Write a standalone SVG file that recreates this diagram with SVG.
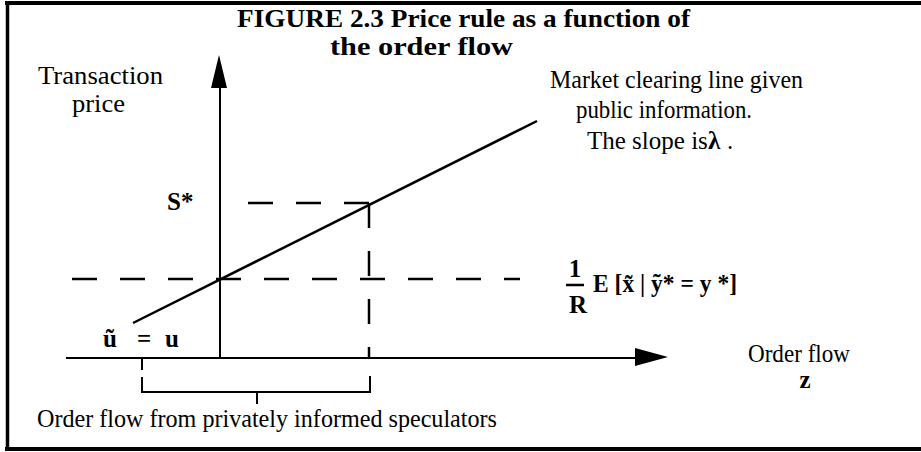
<svg xmlns="http://www.w3.org/2000/svg" width="921" height="452" viewBox="0 0 921 452">
<style>
.t{font-family:"Liberation Serif","Times New Roman",Times,serif;font-size:25px;fill:#000}
.b{font-weight:bold}
.ax{stroke:#000;stroke-width:2;fill:none}
.d{stroke:#000;stroke-width:2.5;fill:none;stroke-dasharray:25 23}
.fr{stroke:#000;fill:none}
</style>
<rect width="921" height="452" fill="#fff"/>
<g id="frame">
<line class="fr" x1="5" y1="3" x2="921" y2="3" stroke-width="4"/>
<line class="fr" x1="5" y1="449" x2="921" y2="449" stroke-width="4"/>
<line class="fr" x1="7.5" y1="1" x2="7.5" y2="451" stroke-width="3.5"/>
</g>
<g id="title">
<text class="t b" x="237" y="27" font-size="24" textLength="453" lengthAdjust="spacingAndGlyphs">FIGURE 2.3  Price rule as a function of</text>
<text class="t b" x="330" y="55" font-size="24" textLength="183" lengthAdjust="spacingAndGlyphs">the order flow</text>
</g>
<g id="connectors">
<line class="ax" x1="220" y1="86" x2="220" y2="358"/>
<polygon points="219,55 211,88 227,88" fill="#000"/>
<line class="ax" x1="66" y1="358" x2="637" y2="358"/>
<polygon points="668,357 635,348 635,366" fill="#000"/>
<line x1="133" y1="323" x2="537" y2="121" stroke="#000" stroke-width="2.5"/>
<line class="d" x1="72" y1="279" x2="520" y2="279"/>
<line class="d" x1="248" y1="203" x2="371" y2="203" stroke-dasharray="25 24"/>
<path class="d" d="M369,203 V357" stroke-dasharray="10 22 25 23 25 24 25"/>
<path class="ax" d="M142,358 V370 M142,377 V392 H370 V376 M257,392 V404"/>
</g>
<g id="label-y">
<text class="t" x="38" y="84" textLength="125" lengthAdjust="spacingAndGlyphs">Transaction</text>
<text class="t" x="72" y="112" textLength="53" lengthAdjust="spacingAndGlyphs">price</text>
</g>
<g id="label-line">
<text class="t" x="587" y="149" font-size="21">The slope is</text>
<text class="t b" x="708" y="149">λ</text>
<text class="t" x="727" y="149">.</text>
<text class="t" x="550" y="88" textLength="253" lengthAdjust="spacingAndGlyphs">Market clearing line given</text>
<text class="t" x="576" y="118" textLength="176" lengthAdjust="spacingAndGlyphs">public information.</text>
</g>
<g id="label-s">
<text class="t b" x="167" y="210" font-size="22">S*</text>
</g>
<g id="label-expect">
<text class="t b" x="575" y="277" text-anchor="middle" font-size="18">1</text>
<line x1="566" y1="285" x2="584" y2="285" stroke="#000" stroke-width="2.5"/>
<text class="t b" x="578" y="313" text-anchor="middle" font-size="19">R</text>
<text class="t b" x="593" y="292" font-size="18" textLength="144" lengthAdjust="spacingAndGlyphs">E [x̃ | ỹ* = y *]</text>
</g>
<g id="label-u">
<text class="t b" x="103" y="347" font-size="20">ũ</text>
<text class="t b" x="137" y="347" font-size="20">=</text>
<text class="t b" x="165" y="347" font-size="20">u</text>
</g>
<g id="label-x">
<text class="t" x="748" y="362" textLength="102" lengthAdjust="spacingAndGlyphs">Order flow</text>
<text class="t b" x="805" y="388" text-anchor="middle" font-size="22">z</text>
</g>
<g id="label-bracket">
<text class="t" x="37" y="427" textLength="460" lengthAdjust="spacingAndGlyphs">Order flow from privately informed speculators</text>
</g>
</svg>
